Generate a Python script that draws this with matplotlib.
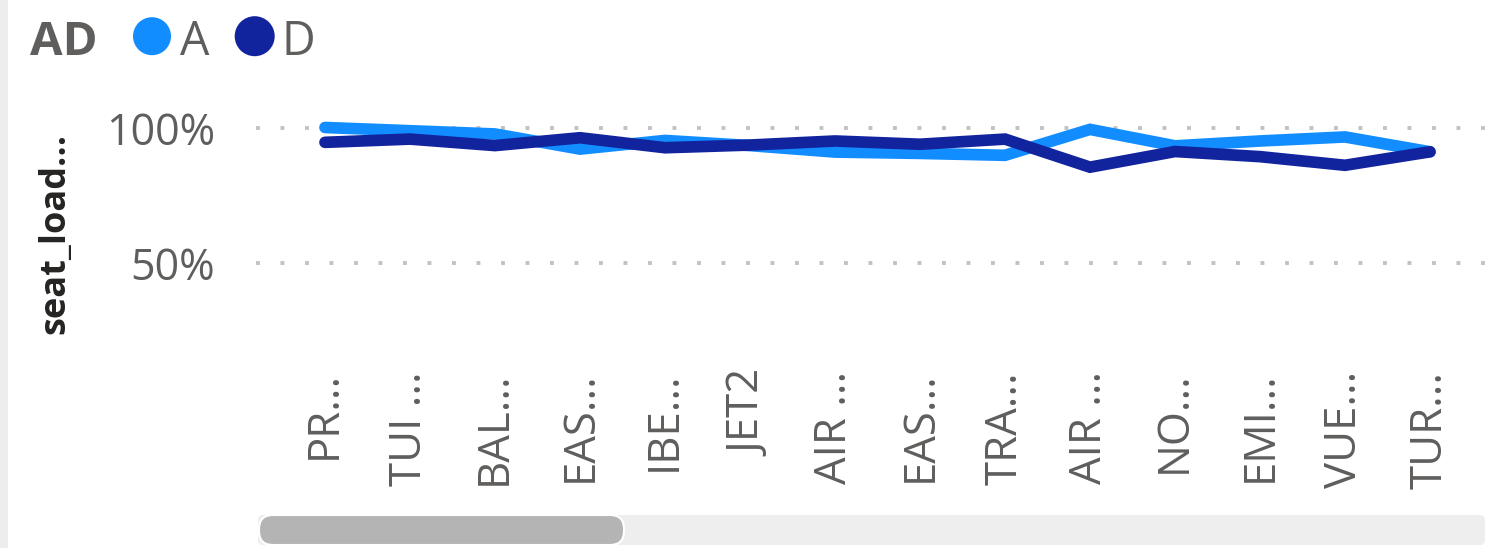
import matplotlib
matplotlib.use("Agg")
import matplotlib.pyplot as plt
from matplotlib.patches import Ellipse, FancyBboxPatch, Rectangle
from matplotlib.ticker import FuncFormatter

plt.rcParams['font.family'] = ['Open Sans', 'DejaVu Sans']

# data (% seat load)
carriers = ["PR...", "TUI ...", "BAL...", "EAS...", "IBE...", "JET2", "AIR ...",
            "EAS...", "TRA...", "AIR ...", "NO...", "EMI...", "VUE...", "TUR..."]
load_a = [100.3, 99.1, 97.9, 92.3, 95.5, 93.6, 91.2,
          90.7, 90.0, 99.6, 93.5, 95.3, 96.8, 91.3]
load_d = [94.8, 96.0, 93.6, 96.5, 92.8, 93.8, 95.3,
          94.1, 96.0, 85.6, 91.4, 89.5, 86.3, 91.3]
y_ticks = [50, 100]

COL_A = "#118DFF"
COL_D = "#12239E"
GREY_TXT = "#605E5C"

W, H = 1487, 548
fig = plt.figure(figsize=(W / 100, H / 100), dpi=100)
fig.patch.set_facecolor("white")

# pixel-space overlay for decorations (legend, scrollbar, left strip)
deco = fig.add_axes([0, 0, 1, 1], zorder=0)
deco.set_xlim(0, W)
deco.set_ylim(H, 0)
deco.axis("off")

# main plot area, placed in pixels
left, right, top, bottom = 256, 1485, 100, 360
ax = fig.add_axes([left / W, (H - bottom) / H, (right - left) / W, (bottom - top) / H], zorder=1)
ax.patch.set_visible(False)

x = list(range(len(carriers)))
lw = 8.4
ax.plot(x, load_a, color=COL_A, lw=lw, solid_capstyle="round", solid_joinstyle="miter", zorder=3)
ax.plot(x, load_d, color=COL_D, lw=lw, solid_capstyle="round", solid_joinstyle="miter", zorder=4)

# axis ranges so that 100% sits at y=128 px and 50% at y=263 px
px_per_pct = 2.7
ax.set_ylim(100 - (bottom - 128.3) / px_per_pct, 100 + (128.3 - top) / px_per_pct)
step = 85.0
ax.set_xlim((left - 325) / step, (right - 325) / step)

ax.set_yticks(y_ticks)
ax.yaxis.set_major_formatter(FuncFormatter(lambda v, p: f"{v:.0f}%"))
ax.yaxis.grid(True, color="#C2C2C2", linewidth=2.8, linestyle=(0, (1, 5.3)))
ax.set_axisbelow(True)

ax.set_xticks(x)
ax.set_xticklabels(carriers, rotation=90, ha="center", va="top")

ax.tick_params(axis="y", length=0, pad=29.5, labelsize=31, labelcolor=GREY_TXT)
ax.tick_params(axis="x", length=0, pad=8.0, labelsize=31.5, labelcolor=GREY_TXT)
for s in ax.spines.values():
    s.set_visible(False)

# y-axis title
fig.text(55 / W, (H - 233) / H, "seat_load...", rotation=90, ha="center", va="center",
         fontsize=26, fontweight="bold", color="#252423")

# legend
deco.text(30, 55.4, "AD", fontsize=34, fontweight="bold", color=GREY_TXT, va="baseline", ha="left")
deco.add_patch(Ellipse((152, 36.2), 38, 38, color=COL_A, lw=0))
deco.text(180, 55.4, "A", fontsize=33.5, color=GREY_TXT, va="baseline", ha="left")
deco.add_patch(Ellipse((254.7, 36.2), 40, 40, color=COL_D, lw=0))
deco.text(282, 55.4, "D", fontsize=33.5, color=GREY_TXT, va="baseline", ha="left")

# left background strip
deco.add_patch(Rectangle((0, 0), 8, H, color="#EEEDEC", lw=0))

# scrollbar
deco.add_patch(FancyBboxPatch((258, 515), 1485 - 258, 30, boxstyle="round,pad=0,rounding_size=5",
                              fc="#EEEEEE", ec="none"))
deco.add_patch(FancyBboxPatch((259, 515), 624 - 259, 30, boxstyle="round,pad=0,rounding_size=14",
                              fc="#B4B4B4", ec="white", lw=1.5))

fig.savefig("out.png", dpi=100)
